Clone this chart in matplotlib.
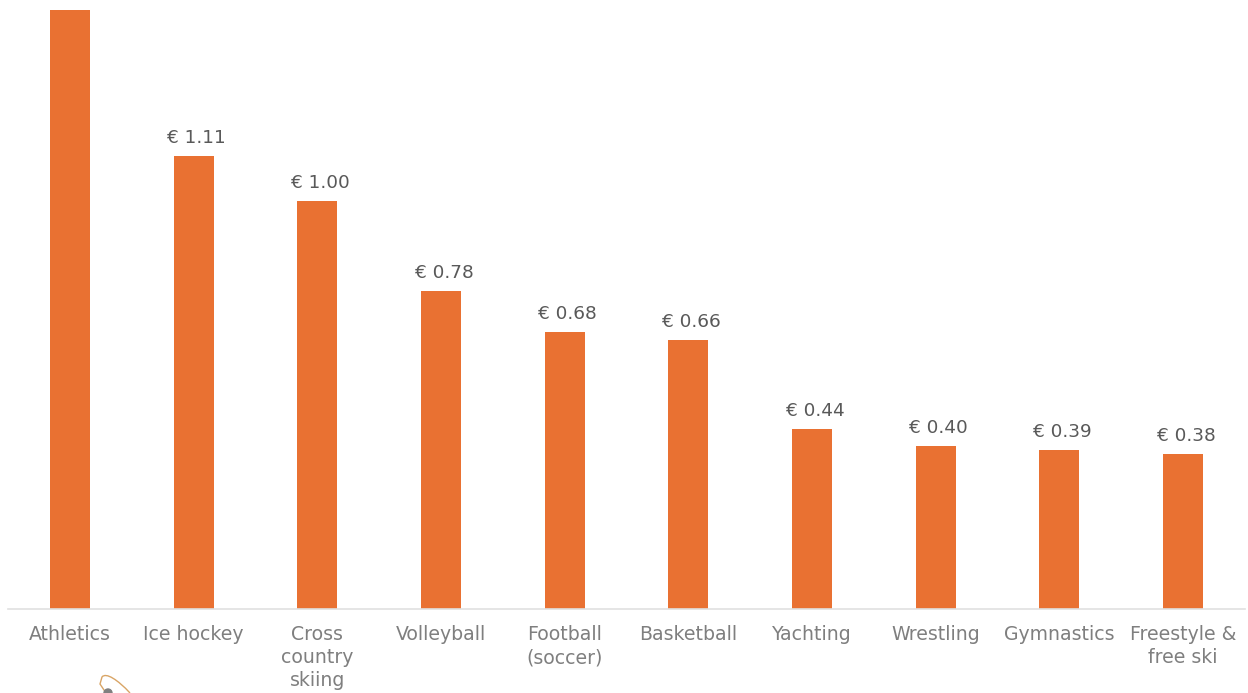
import matplotlib
matplotlib.use('Agg')
from matplotlib import pyplot as plt
from matplotlib.path import Path
from matplotlib.patches import PathPatch, Circle

# values, first bar runs off the top of the picture
categories = ['Athletics', 'Ice hockey', 'Cross\ncountry\nskiing', 'Volleyball', 'Football\n(soccer)',
	'Basketball', 'Yachting', 'Wrestling', 'Gymnastics', 'Freestyle &\nfree ski']
values = [1.47, 1.11, 1.00, 0.78, 0.68, 0.66, 0.44, 0.40, 0.39, 0.38]
value_labels = [None, '€ 1.11', '€ 1.00', '€ 0.78', '€ 0.68', '€ 0.66', '€ 0.44', '€ 0.40', '€ 0.39', '€ 0.38']

plt.rcParams['font.family'] = ['DejaVu Sans']

fig = plt.figure(figsize=(12.48, 6.93), dpi=100)
ax = fig.add_axes([8/1248, 1-609/693, (1245-8)/1248, 599/693])

x = list(range(len(values)))
bars = ax.bar(x, values, width=0.323, color='#e97132')
ax.set_xlim(-0.5, 9.5)
ax.set_ylim(0, 1.468)

for b, lab in zip(bars, value_labels):
	if lab:
		ax.annotate(lab, (b.get_x()+b.get_width()/2, b.get_height()), xytext=(3, 9), textcoords='offset pixels',
			ha='center', va='bottom', fontsize=13.3, color='#595959')

ax.set_yticks([])
ax.set_xticks(x)
ax.set_xticklabels(categories, fontsize=13.6, color='#7f7f7f', linespacing=1.28)
ax.tick_params(axis='x', length=0, pad=11.5)
for s in ['top', 'left', 'right']:
	ax.spines[s].set_visible(False)
ax.spines['bottom'].set_color('#e0e0e0')
ax.spines['bottom'].set_linewidth(1.2)

# bit of a logo cut off by the bottom edge
logo = fig.add_axes([0, 0, 1, 1])
logo.set_xlim(0, 1248)
logo.set_ylim(693, 0)
logo.axis('off')
logo.patch.set_alpha(0)
loop = Path([(130, 693), (118, 680), (106, 672), (102, 677), (100, 684), (106, 693)],
	[Path.MOVETO, Path.CURVE4, Path.CURVE4, Path.CURVE4, Path.LINETO, Path.LINETO])
logo.add_patch(PathPatch(loop, fill=False, edgecolor='#d9a566', linewidth=1))
logo.add_patch(Circle((108, 693), 4, color='#808080'))

fig.savefig('out.png', dpi=100)
